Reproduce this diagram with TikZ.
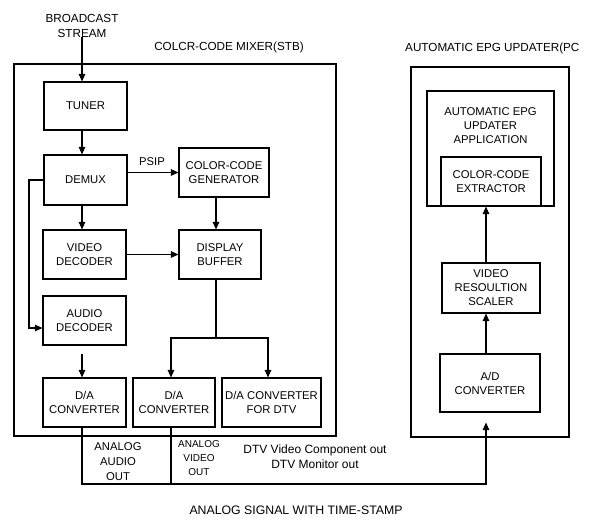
\documentclass[tikz,border=0pt]{standalone}
\usepackage{fontspec}
\setmainfont{Liberation Sans}
\usetikzlibrary{arrows.meta,calc}
\begin{document}
\begin{tikzpicture}[x=1pt,y=-1pt,
  every node/.style={font=\fontsize{11.3}{14}\selectfont, align=center, inner sep=0pt},
  blk/.style={draw, line width=1.1pt, minimum width=#1, minimum height=49},
  frame/.style={draw, line width=1.1pt},
  conn/.style={line width=1.1pt},
  arr/.style={conn, -{Triangle[length=7.5pt,width=6.5pt]}},
  ttl/.style={font=\fontsize{11.7}{15}\selectfont},
]
\useasboundingbox (0,0) rectangle (593,518);
% outer frames
\node[frame, minimum width=322, minimum height=372] (stb) at (175,250) {};
\node[frame, minimum width=158, minimum height=370] (pc) at (490,252) {};
% titles
\node[ttl] (bs) at (82,25.5) {BROADCAST\\STREAM};
\node[ttl] (stbt) at (229,47) {COLCR-CODE MIXER(STB)};
\node[ttl, anchor=west] (pct) at (405,48) {AUTOMATIC EPG UPDATER(PC};
% STB blocks
\node[blk=83, minimum height=48] (tuner) at (85.5,106) {TUNER};
\node[blk=83, minimum height=50] (demux) at (85.5,180) {DEMUX};
\node[blk=90] (ccg) at (224,172.5) {COLOR-CODE\\GENERATOR};
\node[blk=83] (vdec) at (84.5,254.5) {VIDEO\\DECODER};
\node[blk=82] (dbuf) at (220,254.5) {DISPLAY\\BUFFER};
\node[blk=83] (adec) at (84.5,320.5) {AUDIO\\DECODER};
\node[blk=83] (da1) at (84.5,402.5) {D/A\\CONVERTER};
\node[blk=82] (da2) at (174,402.5) {D/A\\CONVERTER};
\node[blk=99] (da3) at (271.5,402.5) {D/A CONVERTER\\FOR DTV};
% PC blocks
\node[frame, minimum width=127, minimum height=115] (app) at (490.5,148.5) {};
\node (apptxt) at (490.5,126) {AUTOMATIC EPG\\UPDATER\\APPLICATION};
\node[blk=100] (extr) at (491,181.5) {COLOR-CODE\\EXTRACTOR};
\node[blk=98, minimum height=50] (scal) at (491,288) {VIDEO\\RESOULTION\\SCALER};
\node[blk=100, minimum height=58] (adc) at (490,383) {A/D\\CONVERTER};
% column coordinates
\coordinate (colA) at (82,0);
\coordinate (colB) at (216,0);
\coordinate (colC) at (171,0);
\coordinate (colD) at (268,0);
\coordinate (colE) at (486,0);
\coordinate (lp) at (29,328);
\coordinate (split) at (216,338);
\coordinate (bus) at (486,484);
% STB connectors
\draw[arr] (bs.south) -- (bs.south |- tuner.north);
\draw[arr] (tuner.south -| colA) -- (demux.north -| colA);
\draw[arr] (demux.east |- ccg.west) -- (ccg.west);
\node (psip) at (152,162) {PSIP};
\draw[arr] (demux.south -| colA) -- (vdec.north -| colA);
\draw[arr] (demux.west) -| (lp) -- (lp -| adec.west);
\draw[arr] (ccg.south -| colB) -- (dbuf.north -| colB);
\draw[arr] (vdec.east) -- (dbuf.west);
\draw[conn] (dbuf.south -| split) -- (split);
\draw[arr] (split) -| (da2.north -| colC);
\draw[arr] (split) -| (da3.north -| colD);
\draw[arr] ($(adec.south -| colA)+(0,8)$) -- (da1.north -| colA);
% output bus
\draw[arr] (da1.south -| colA) |- (bus) -- ($(adc.south -| bus)+(0,10)$);
\draw[conn] (da2.south -| colC) -- (colC |- bus);
% PC connectors
\draw[arr] (adc.north -| colE) -- (scal.south -| colE);
\draw[arr] (scal.north -| colE) -- (extr.south -| colE);
% bottom labels
\node[font=\fontsize{11.3}{15}\selectfont] (aao) at (118,462) {ANALOG\\AUDIO\\OUT};
\node[font=\fontsize{10}{14}\selectfont] (avo) at (199,458) {ANALOG\\VIDEO\\OUT};
\node[font=\fontsize{12}{15}\selectfont] (dtvo) at (315,457) {DTV Video Component out\\DTV Monitor out};
\node[font=\fontsize{12.3}{15}\selectfont] (sig) at (296,510) {ANALOG SIGNAL WITH TIME-STAMP};
\end{tikzpicture}
\end{document}
